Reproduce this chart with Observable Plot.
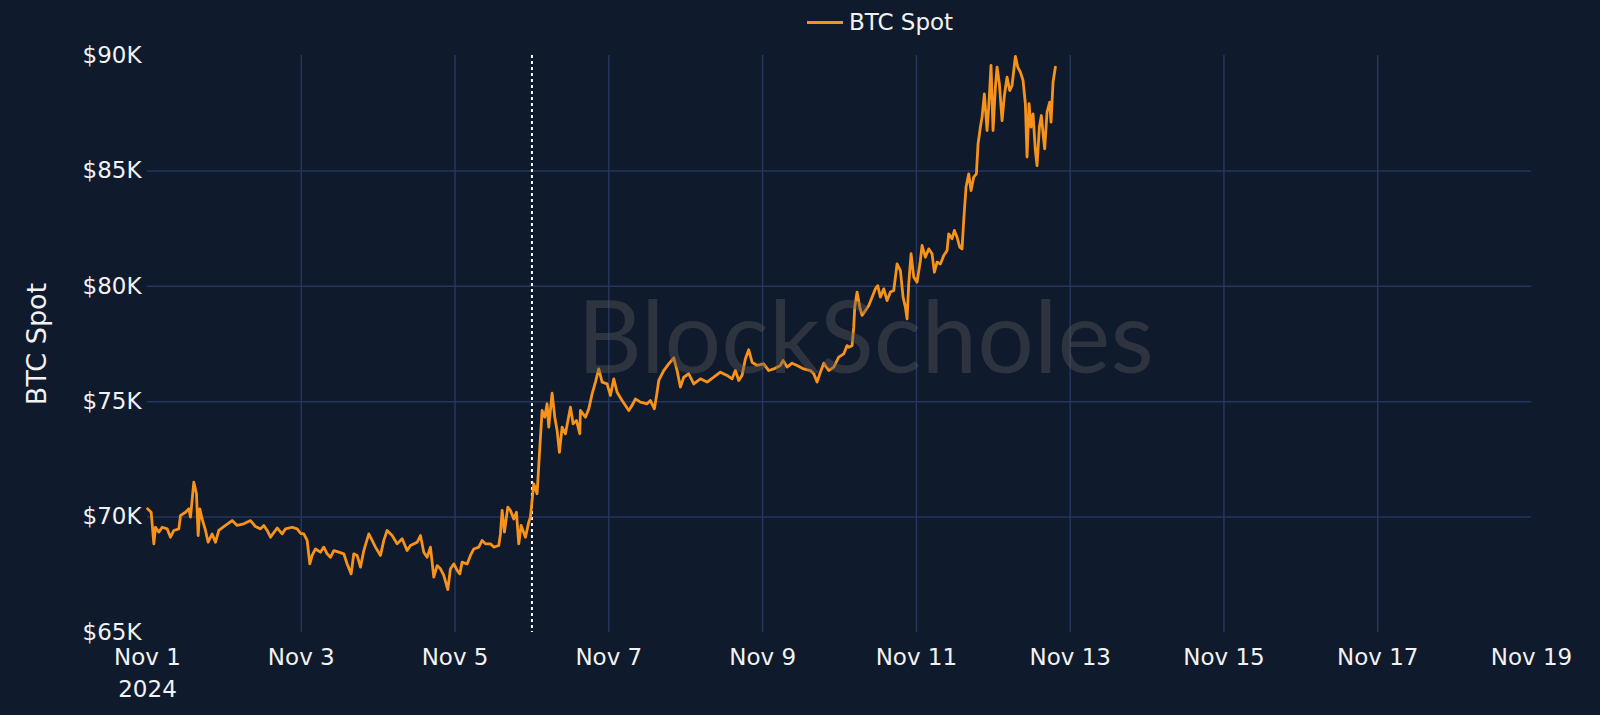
<!DOCTYPE html>
<html>
<head>
<meta charset="utf-8">
<script src="https://cdn.jsdelivr.net/npm/d3@7"></script>
<script src="https://cdn.jsdelivr.net/npm/@observablehq/plot@0.6"></script>
<style>
  html, body { margin: 0; padding: 0; background: #0f1a2d; }
  #wrap { position: relative; width: 1600px; height: 715px; background: #0f1a2d; overflow: hidden; }
  #legend { position: absolute; left: 807px; top: 5px; height: 34px; display: flex; align-items: center;
            font-family: "DejaVu Sans", sans-serif; font-size: 23px; color: #f2f2f2; }
  #legend .sw { width: 36px; height: 3px; background: #f7931a; margin-right: 6px; }
  #chart { position: absolute; left: 0; top: 0; }
</style>
</head>
<body>
<div id="wrap">
  <div id="chart"></div>
  <div id="legend"><span class="sw"></span><span>BTC Spot</span></div>
</div>
<script>
// Hours since 2024-11-01 00:00 UTC
const hours = [
  0, 1.15, 1.98, 2.5, 3.54, 4.58, 6.14, 7.18, 8.22, 9.78, 10.3, 11.86, 12.9, 13.42, 14.46, 15.29, 15.81, 16.33, 17.06, 18.1,
  18.93, 20.18, 21.22, 22.26, 24.34, 26.43, 27.98, 30.07, 32.15, 33.71, 35.27, 36.31, 37.35, 38.39, 40.47, 42.03, 43.07, 45.15, 46.71, 47.75,
  48.79, 49.83, 50.66, 51.39, 52.43, 53.99, 55.03, 56.07, 57.11, 58.15, 59.71, 61.27, 62.32, 63.57, 64.4, 65.44, 66.48, 67.52, 69.08, 70.12,
  71.16, 72.72, 73.76, 74.8, 76.36, 77.92, 79.48, 81.04, 82.08, 84.16, 85.2, 86.24, 87.28, 88.32, 89.36, 90.41, 91.45, 92.49, 93.73, 94.57,
  95.61, 96.65, 97.48, 98.21, 99.77, 100.81, 101.85, 103.41, 104.45, 105.49, 107.05, 108.09, 109.65, 110.17, 110.69, 111.42, 112.46, 113.29, 114.33, 115.16,
  115.89, 116.62, 117.97, 119.01, 119.53, 120.57, 121.61, 122.34, 123.17, 124.0, 124.73, 125.25, 126.29, 127.13, 127.86, 128.58, 129.42, 130.46, 132.02, 132.85,
  133.89, 134.93, 135.14, 136.7, 137.74, 138.78, 139.82, 140.86, 141.9, 143.46, 144.5, 145.54, 146.58, 148.14, 150.22, 151.26, 152.3, 153.86, 155.94, 156.98,
  158.23, 159.06, 159.58, 161.14, 162.7, 164.27, 165.31, 166.35, 167.39, 168.95, 170.51, 172.59, 174.67, 176.75, 178.83, 180.91, 182.47, 183.51, 184.55, 185.59,
  186.63, 187.67, 188.71, 190.27, 192.35, 193.91, 195.47, 197.56, 198.39, 199.64, 201.2, 202.76, 204.84, 206.92, 207.96, 209.0, 210.04, 211.08, 212.64, 214.2,
  215.76, 217.32, 218.36, 218.88, 219.92, 220.44, 220.76, 221.49, 222.32, 223.05, 224.09, 225.13, 226.17, 227.21, 227.93, 228.77, 229.81, 230.85, 231.89, 232.93,
  233.97, 235.01, 235.84, 236.57, 237.09, 237.61, 238.34, 239.17, 240.21, 241.25, 241.77, 242.81, 243.85, 244.89, 245.62, 246.45, 247.49, 248.53, 249.57, 250.09,
  251.13, 251.86, 252.69, 253.53, 254.25, 254.77, 255.5, 256.34, 257.06, 257.9, 258.73, 259.25, 259.98, 260.5, 261.22, 262.06, 262.58, 263.3, 263.93, 264.66,
  265.18, 265.91, 266.74, 267.47, 268.3, 269.13, 269.86, 270.9, 271.63, 272.46, 273.29, 274.02, 274.54, 275.16, 275.79, 276.41, 277.14, 277.66, 278.39, 279.01,
  279.53, 280.05, 280.78, 281.61, 282.03, 282.66, 283.39
];
// BTC spot price (USD)
const prices = [
  70360, 70210, 68840, 69560, 69350, 69560, 69490, 69130, 69420, 69490, 70070, 70210, 70360, 70000, 71510, 71010, 69200, 70360, 69920, 69420,
  68910, 69270, 68910, 69420, 69640, 69850, 69640, 69710, 69850, 69590, 69490, 69640, 69420, 69130, 69530, 69270, 69490, 69560, 69490, 69300,
  69270, 68990, 67970, 68340, 68620, 68480, 68700, 68410, 68260, 68550, 68480, 68410, 67970, 67540, 68410, 68340, 67830, 68550, 69270, 68990,
  68700, 68340, 68990, 69420, 69200, 68840, 69060, 68550, 68770, 68910, 69200, 68480, 68260, 68700, 67400, 67900, 67760, 67470, 66860, 67760,
  67970, 67690, 67540, 68050, 67970, 68340, 68620, 68700, 68990, 68840, 68840, 68700, 68770, 69270, 70290, 69350, 70430, 70290, 69920, 70210,
  68840, 69640, 69130, 69780, 70000, 71440, 71010, 72740, 74620, 74330, 74910, 73900, 75370, 74330, 73750, 72810, 73900, 73610, 74760, 74040,
  74190, 73610, 74620, 74330, 74690, 75340, 75850, 76420, 75850, 75770, 75270, 75990, 75410, 75050, 74620, 74840, 75120, 74980, 74910, 75050,
  74690, 75410, 75920, 76350, 76640, 76900, 76350, 75630, 76060, 76210, 75770, 75990, 75850, 76060, 76280, 76140, 75990, 76350, 75920, 76140,
  76860, 77250, 76710, 76570, 76640, 76350, 76420, 76570, 76790, 76500, 76670, 76570, 76420, 76350, 76210, 75850, 76280, 76670, 76350, 76500,
  76930, 77070, 77430, 77360, 77430, 78230, 79100, 79750, 79100, 78740, 78950, 79170, 79530, 79890, 80030, 79530, 79890, 79380, 79750, 79820,
  80970, 80680, 79530, 79100, 78590, 80110, 81410, 80400, 80180, 81120, 81770, 81260, 81620, 81410, 80610, 81050, 80970, 81330, 81550, 82270,
  82060, 82420, 82130, 81700, 81620, 82850, 84300, 84870, 84150, 84730, 84870, 86170, 86900, 87330, 88340, 86750, 87760, 89570, 86750, 88630,
  89500, 88770, 87180, 88270, 89060, 88480, 88700, 89960, 89500, 89280, 88920, 87910, 85600, 87910, 86900, 87470, 85880, 85230, 86900, 87400,
  86610, 85960, 87550, 87980, 87110, 88850, 89500
];
const xTickDates = ["2024-11-01","2024-11-03","2024-11-05","2024-11-07","2024-11-09","2024-11-11","2024-11-13","2024-11-15","2024-11-17","2024-11-19"];
const xTickLabels = ["Nov 1\n2024","Nov 3","Nov 5","Nov 7","Nov 9","Nov 11","Nov 13","Nov 15","Nov 17","Nov 19"];
const yTicks = [65000, 70000, 75000, 80000, 85000, 90000];
const yTickLabels = ["$65K","$70K","$75K","$80K","$85K","$90K"];
const yGrid = [70000, 75000, 80000, 85000];
const markerDate = "2024-11-06T00:00:00Z";
const seriesName = "BTC Spot";
const watermark = "BlockScholes";

const t0 = Date.UTC(2024, 10, 1);
const data = hours.map((h, i) => ({ date: new Date(t0 + h * 3600e3), price: prices[i] }));
const xTicks = xTickDates.map(s => new Date(s + "T00:00:00Z"));
const xInner = xTicks.slice(1, -1);
const gridColor = "#26365c";

const chart = Plot.plot({
  width: 1600,
  height: 715,
  marginTop: 55,
  marginBottom: 83,
  marginLeft: 147,
  marginRight: 69,
  style: { background: "transparent", color: "#f2f2f2", fontFamily: "DejaVu Sans, sans-serif" },
  x: { type: "utc", domain: [xTicks[0], xTicks[xTicks.length - 1]] },
  y: { domain: [65000, 90000] },
  marks: [
    Plot.gridX(xInner, { stroke: gridColor, strokeOpacity: 1, strokeWidth: 1.5 }),
    Plot.gridY(yGrid, { stroke: gridColor, strokeOpacity: 1, strokeWidth: 1.5 }),
    Plot.axisX(xTicks, {
      tickSize: 0, tickPadding: 10, fontSize: 23, lineHeight: 1.39,
      tickFormat: (d) => xTickLabels[xTicks.findIndex(t => +t === +d)], label: null
    }),
    Plot.axisY(yTicks, {
      tickSize: 0, tickPadding: 6, fontSize: 23,
      tickFormat: (d) => yTickLabels[yTicks.indexOf(d)], label: null
    }),
    Plot.text([seriesName], {
      frameAnchor: "left", dx: -110, rotate: -90, fontSize: 27, fill: "#f2f2f2", textAnchor: "middle"
    }),
    Plot.ruleX([new Date(markerDate)], { stroke: "#ffffff", strokeWidth: 2, strokeDasharray: "3,3" }),
    Plot.line(data, { x: "date", y: "price", stroke: "#f7931a", strokeWidth: 2.8, strokeLinejoin: "round" }),
    Plot.text([watermark], {
      frameAnchor: "middle", dx: 26, dy: -3, fontSize: 100, fontFamily: "Lato", fill: "#5a5a5a", fillOpacity: 0.4
    })
  ]
});
document.getElementById("chart").appendChild(chart);
</script>
</body>
</html>
